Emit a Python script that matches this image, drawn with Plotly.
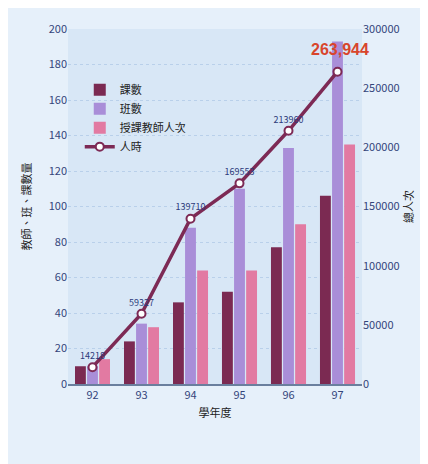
import plotly.graph_objects as go

years = ["92", "93", "94", "95", "96", "97"]
courses = [10, 24, 46, 52, 77, 106]
classes = [10, 34, 88, 110, 133, 193]
teachers = [14, 32, 64, 64, 90, 135]
hours = [14218, 59327, 139710, 169553, 213960, 263944]
hour_labels = ["14218", "59327", "139710", "169553", "213960", "263,944"]

font_cjk = "Noto Sans CJK TC"
tick_col = "#34457a"

fig = go.Figure()
fig.add_bar(x=years, y=courses, name="課數", marker=dict(color="#7b2a52", line=dict(width=0)))
fig.add_bar(x=years, y=classes, name="班數", marker=dict(color="#a98ed8", line=dict(width=0)))
fig.add_bar(x=years, y=teachers, name="授課教師人次", marker=dict(color="#e27aa2", line=dict(width=0)))
fig.add_scatter(
    x=years, y=hours, name="人時", yaxis="y2", mode="lines+markers+text",
    line=dict(color="#7d2a55", width=3.5),
    marker=dict(color="white", size=8, line=dict(color="#7d2a55", width=2)),
    text=hour_labels[:-1] + [""], textposition="top center",
    textfont=dict(size=9, color="#2c3a7a", family=font_cjk),
)
last = len(years) - 1
fig.add_annotation(
    x=last, y=hours[last], xref="x", yref="y2", text="<b>" + hour_labels[last] + "</b>",
    showarrow=False, yshift=22, xshift=2,
    font=dict(size=16, color="#d8452c", family="Liberation Sans"),
)

fig.update_layout(
    width=428, height=464,
    margin=dict(l=60, r=74, t=12, b=88),
    paper_bgcolor="#e6f0fa",
    plot_bgcolor="#d8e7f6",
    barmode="group", bargap=0.26, bargroupgap=0.1,
    font=dict(family=font_cjk, color=tick_col, size=11),
    showlegend=True,
    legend=dict(x=0.04, y=0.87, xanchor="left", yanchor="top",
                bgcolor="rgba(0,0,0,0)", font=dict(size=11, color="#222"),
                tracegroupgap=0),
    xaxis=dict(type="category", categoryorder="array", categoryarray=years,
               range=[-0.5, len(years) - 0.5], autorange=False,
               showgrid=False, showline=True, linecolor="#6a7f9e", linewidth=2,
               ticks="", tickfont=dict(size=11, color=tick_col),
               title=dict(text="學年度", font=dict(size=11, color="#222"), standoff=8)),
    yaxis=dict(range=[0, 200], dtick=20, showgrid=True, gridcolor="#b9d0ea", griddash="dot",
               zeroline=False, showline=False, ticks="", tickfont=dict(size=11, color=tick_col),
               title=dict(text="教師、班、課數量", font=dict(size=11, color="#222"), standoff=14)),
    yaxis2=dict(range=[0, 300000], dtick=50000, overlaying="y", side="right", tickformat="d",
                showgrid=False, zeroline=False, ticks="", tickfont=dict(size=11, color=tick_col),
                title=dict(text="總人次", font=dict(size=11, color="#222"), standoff=6)),
)

fig.write_html("out.html")
